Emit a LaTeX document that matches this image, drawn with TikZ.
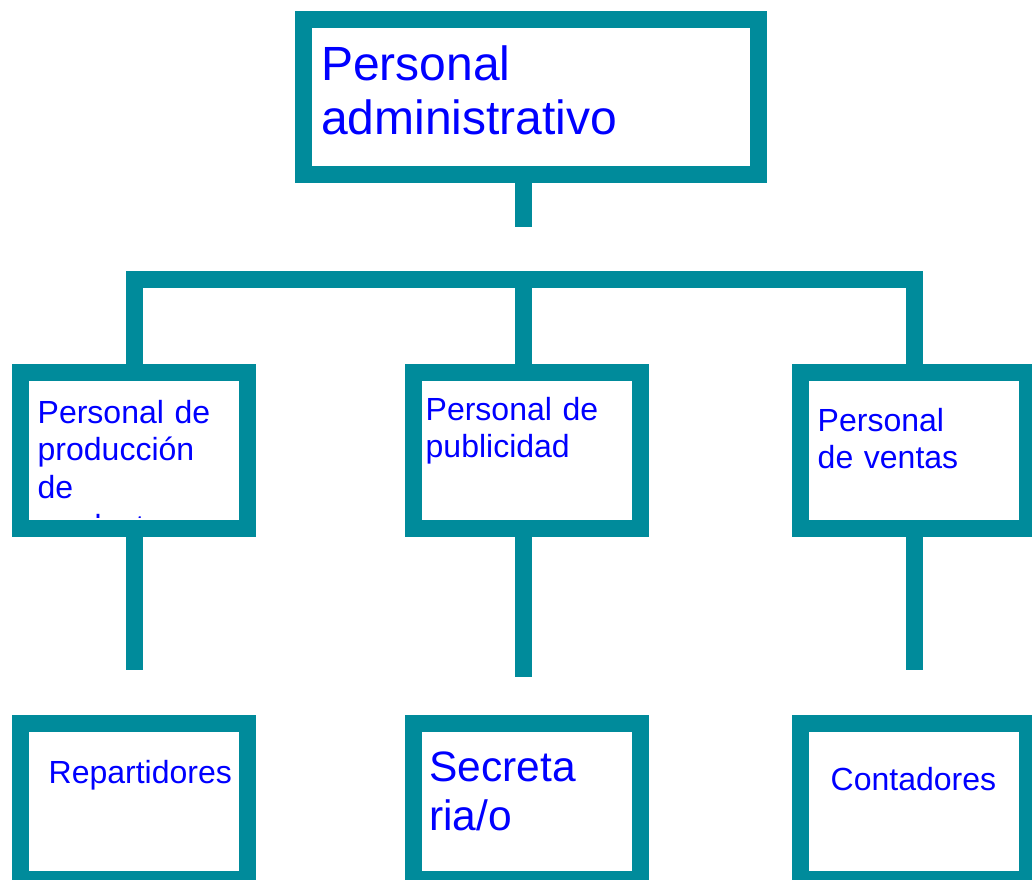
\documentclass[tikz,border=0pt]{standalone}
\usepackage{fontspec}
\setmainfont{Liberation Sans}
\definecolor{orgteal}{RGB}{0,139,155}
\definecolor{orgblue}{RGB}{0,0,255}
\tikzset{
  orgbox/.style={draw=orgteal,line width=17pt,fill=white,inner sep=0pt,outer sep=8.5pt,minimum width=227pt,minimum height=156pt},
  orgline/.style={draw=orgteal,line width=17pt,line join=miter},
  lbl/.style={anchor=base west,inner sep=0pt,text=orgblue,text width=250pt,align=left,font=\fontsize{32}{37}\selectfont},
}

\begin{document}
\begin{tikzpicture}[x=1pt,y=-1pt]
\useasboundingbox (0,0) rectangle (1032,879);
\clip (0,0) rectangle (1032,879);
% boxes
\node[orgbox,minimum width=455pt,minimum height=155pt] (admin) at (531,97) {};
\node[orgbox] (prod) at (134,450.5) {};
\node[orgbox] (pub) at (527,450.5) {};
\node[orgbox] (ventas) at (914,450.5) {};
\node[orgbox] (rep) at (134,801) {};
\node[orgbox] (secr) at (527,801) {};
\node[orgbox] (cont) at (914,801) {};
% connectors
\coordinate (topend) at (523,227);
\coordinate (bar) at (523,279);
\coordinate (prodend) at (134,670);
\coordinate (pubend) at (523,677);
\coordinate (ventasend) at (914,670);
\draw[orgline] (topend |- admin.south) -- (topend);
\draw[orgline] (prod.north) |- (bar) -| (ventas.north);
\draw[orgline] (bar) -- (bar |- pub.north);
\draw[orgline] (prod.south) -- (prodend);
\draw[orgline] (pubend |- pub.south) -- (pubend);
\draw[orgline] (ventas.south) -- (ventasend);
% texts
\node[lbl,font=\fontsize{48}{54}\selectfont] (admintxt) at (321,80) {Personal\\administrativo};
\begin{scope}
\clip ([shift={(17,17)}]prod.north west) rectangle ([shift={(-17,-20)}]prod.south east);
\node[lbl,font=\fontsize{32}{37.5}\selectfont] (prodtxt) at (37.5,423) {Personal de\\producción\\de\\[1.5pt]productos};
\end{scope}
\node[lbl] (pubtxt) at (425.5,420) {Personal de\\publicidad};
\node[lbl] (ventastxt) at (817.5,431) {Personal\\de ventas};
\node[lbl] (reptxt) at (48.5,783) {Repartidores};
\node[lbl,font=\fontsize{42.5}{49}\selectfont] (secrtxt) at (429,781) {Secreta\\ria/o};
\node[lbl] (conttxt) at (830.5,790) {Contadores};
\end{tikzpicture}
\end{document}
